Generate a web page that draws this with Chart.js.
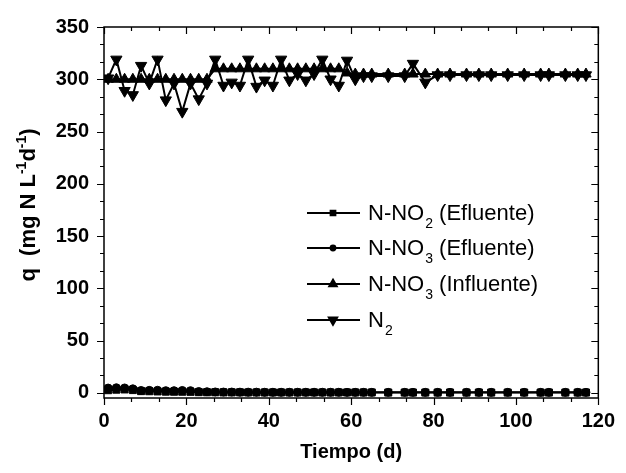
<!DOCTYPE html>
<html>
<head>
<meta charset="utf-8">
<script src="https://cdn.jsdelivr.net/npm/chart.js@4/dist/chart.umd.min.js"></script>
<style>
	html, body { margin: 0; padding: 0; background: #fff; }
	#wrap { width: 626px; height: 473px; }
</style>
</head>
<body>
<div id="wrap"><canvas id="myChart" width="626" height="473"></canvas></div>
<script>
// dias de operação (d)
const dias = [1, 3, 5, 7, 9, 11, 13, 15, 17, 19, 21, 23, 25, 27, 29, 31, 33, 35, 37, 39, 41, 43, 45, 47, 49, 51, 53, 55, 57, 59, 61, 63, 65,
	69, 73, 75, 78, 81, 84, 88, 91, 94, 98, 102, 106, 108, 112, 115, 117];

// q (mg N L-1 d-1)
const nno2Efluente = [2.5, 3.0, 3.2, 2.6, 1.6, 1.5, 1.3, 1.1, 1.0, 1.0, 0.9, 0.6, 0.5, 0.5, 0.4, 0.4, 0.4, 0.3, 0.3, 0.3, 0.3, 0.3, 0.3, 0.3, 0.3, 0.3, 0.3, 0.3, 0.3, 0.3, 0.3, 0.3, 0.3,
	0.2, 0.2, 0.2, 0.2, 0.2, 0.2, 0.2, 0.2, 0.2, 0.2, 0.2, 0.2, 0.2, 0.2, 0.2, 0.2];
const nno3Efluente = [4.5, 4.8, 4.6, 3.8, 2.2, 2.3, 2.4, 2.0, 2.0, 2.2, 2.0, 1.2, 1.0, 0.8, 0.7, 0.7, 0.6, 0.6, 0.6, 0.5, 0.5, 0.5, 0.5, 0.5, 0.5, 0.5, 0.5, 0.5, 0.5, 0.4, 0.4, 0.4, 0.4,
	0.4, 0.4, 0.4, 0.4, 0.4, 0.4, 0.4, 0.4, 0.4, 0.4, 0.4, 0.4, 0.4, 0.4, 0.4, 0.4];
const nno3Influente = [300, 300, 300, 300, 300, 300, 300, 300, 300, 300, 300, 300, 300, 310, 310, 310, 310, 310, 310, 310, 310, 310, 310, 310, 310, 310, 310, 310, 310, 306, 305, 305, 305,
	305, 305, 305, 305, 305, 305, 305, 305, 305, 305, 305, 305, 305, 305, 305, 305];
const n2 = [301, 319, 289, 285, 313, 296, 319, 280, 296, 269, 296, 281, 296, 319, 294, 297, 294, 319, 293, 299, 294, 319, 299, 305, 299, 305, 319, 300, 294, 318, 300, 303, 303,
	303, 303, 315, 297, 304, 304, 304, 304, 304, 304, 304, 304, 304, 304, 304, 304];

const xTicks = [0, 20, 40, 60, 80, 100, 120];
const yTicks = [0, 50, 100, 150, 200, 250, 300, 350];

const series = [
	{ label: ['N-NO', '2', ' (Efluente)'], valores: nno2Efluente, estilo: 'rect', raio: 5, rot: 0 },
	{ label: ['N-NO', '3', ' (Efluente)'], valores: nno3Efluente, estilo: 'circle', raio: 4, rot: 0 },
	{ label: ['N-NO', '3', ' (Influente)'], valores: nno3Influente, estilo: 'triangle', raio: 6, rot: 0 },
	{ label: ['N', '2', ''], valores: n2, estilo: 'triangle', raio: 6.5, rot: 180 }
];

const FONTE = '"Liberation Sans", Arial, sans-serif';

// moldura com ticks maiores e menores nos quatro lados
const molduraPlugin = {
	id: 'moldura',
	afterDatasetsDraw(chart) {
		const { ctx, chartArea: a, scales } = chart;
		ctx.save();
		ctx.strokeStyle = '#000';
		ctx.lineWidth = 1.5;
		ctx.strokeRect(a.left, a.top, a.right - a.left, a.bottom - a.top);
		ctx.lineWidth = 1.2;
		ctx.beginPath();
		for (let v = 0; v <= 120.01; v += 20 / 3) {
			const major = Math.abs(v / 20 - Math.round(v / 20)) < 0.01;
			const len = major ? 7 : 4;
			const x = Math.round(scales.x.getPixelForValue(v)) + 0.5;
			ctx.moveTo(x, a.bottom); ctx.lineTo(x, a.bottom + len);
			ctx.moveTo(x, a.top); ctx.lineTo(x, a.top + len);
		}
		for (let v = 0; v <= 350.01; v += 50 / 3) {
			const major = Math.abs(v / 50 - Math.round(v / 50)) < 0.01;
			const len = major ? 7 : 4;
			const y = Math.round(scales.y.getPixelForValue(v)) + 0.5;
			ctx.moveTo(a.left, y); ctx.lineTo(a.left - len, y);
			ctx.moveTo(a.right, y); ctx.lineTo(a.right - len, y);
		}
		ctx.stroke();
		ctx.restore();
	},
	afterDraw(chart) {
		const { ctx, chartArea: a } = chart;
		ctx.save();
		ctx.fillStyle = '#000';

		// título eixo x
		ctx.font = 'bold 20px ' + FONTE;
		ctx.textAlign = 'center';
		ctx.textBaseline = 'alphabetic';
		ctx.fillText('Tiempo (d)', (a.left + a.right) / 2, 458);

		// título eixo y com expoentes
		ctx.translate(35, 205);
		ctx.rotate(-Math.PI / 2);
		const partes = [['q  (mg N L', 0], ['-1', 1], ['d', 0], ['-1', 1], [')', 0]];
		const fonte = (sup) => sup ? 'bold 14px ' + FONTE : 'bold 22px ' + FONTE;
		let total = 0;
		partes.forEach(([t, sup]) => {
			ctx.font = fonte(sup);
			total += ctx.measureText(t).width;
		});
		let px = -total / 2;
		ctx.textAlign = 'left';
		partes.forEach(([t, sup]) => {
			ctx.font = fonte(sup);
			ctx.fillText(t, px, sup ? -9 : 0);
			px += ctx.measureText(t).width;
		});
		ctx.restore();

		// legenda
		const linhas = [213, 248, 284, 320];
		ctx.save();
		series.forEach((s, i) => {
			const y = linhas[i];
			ctx.strokeStyle = '#000';
			ctx.lineWidth = 1.8;
			ctx.beginPath();
			ctx.moveTo(307, y); ctx.lineTo(360, y);
			ctx.stroke();
			ctx.fillStyle = '#000';
			Chart.helpers.drawPoint(ctx, { pointStyle: s.estilo, radius: s.raio - 1.5, rotation: s.rot, borderWidth: 1 }, 333, y);
			ctx.fill();
			let x = 368;
			ctx.textAlign = 'left';
			ctx.textBaseline = 'middle';
			ctx.font = '22px ' + FONTE;
			ctx.fillText(s.label[0], x, y + 1);
			x += ctx.measureText(s.label[0]).width + 1;
			ctx.font = '14px ' + FONTE;
			ctx.fillText(s.label[1], x, y + 11);
			x += ctx.measureText(s.label[1]).width;
			ctx.font = '22px ' + FONTE;
			ctx.fillText(s.label[2], x, y + 1);
		});
		ctx.restore();
	}
};

const ctx = document.getElementById('myChart').getContext('2d');

const myChart = new Chart(ctx, {
	type: 'line',
	data: {
		datasets: series.map((s) => ({
			label: s.label.join(''),
			data: dias.map((d, i) => ({ x: d, y: s.valores[i] })),
			borderColor: '#000',
			backgroundColor: '#000',
			borderWidth: 2,
			pointStyle: s.estilo,
			pointRadius: s.raio,
			pointRotation: s.rot,
			pointBorderWidth: 1,
			pointBackgroundColor: '#000',
			pointBorderColor: '#000',
			tension: 0,
			fill: false
		}))
	},
	options: {
		responsive: false,
		animation: false,
		devicePixelRatio: 1,
		layout: { padding: { left: 0, right: 23, top: 26, bottom: 0 } },
		plugins: {
			legend: { display: false },
			tooltip: { enabled: false }
		},
		scales: {
			x: {
				type: 'linear',
				min: 0,
				max: 120,
				afterBuildTicks: (s) => { s.ticks = xTicks.map((v) => ({ value: v })); },
				afterFit: (s) => { s.height = 75; },
				grid: { display: false, drawTicks: false },
				border: { display: false },
				ticks: { color: '#000', padding: 11, maxRotation: 0, font: { family: FONTE, size: 20, weight: 'bold' } }
			},
			y: {
				type: 'linear',
				min: -5,
				max: 350,
				afterBuildTicks: (s) => { s.ticks = yTicks.map((v) => ({ value: v })); },
				afterFit: (s) => { s.width = 104; },
				grid: { display: false, drawTicks: false },
				border: { display: false },
				ticks: { color: '#000', padding: 15, font: { family: FONTE, size: 20, weight: 'bold' } }
			}
		}
	},
	plugins: [molduraPlugin]
});
</script>
</body>
</html>
